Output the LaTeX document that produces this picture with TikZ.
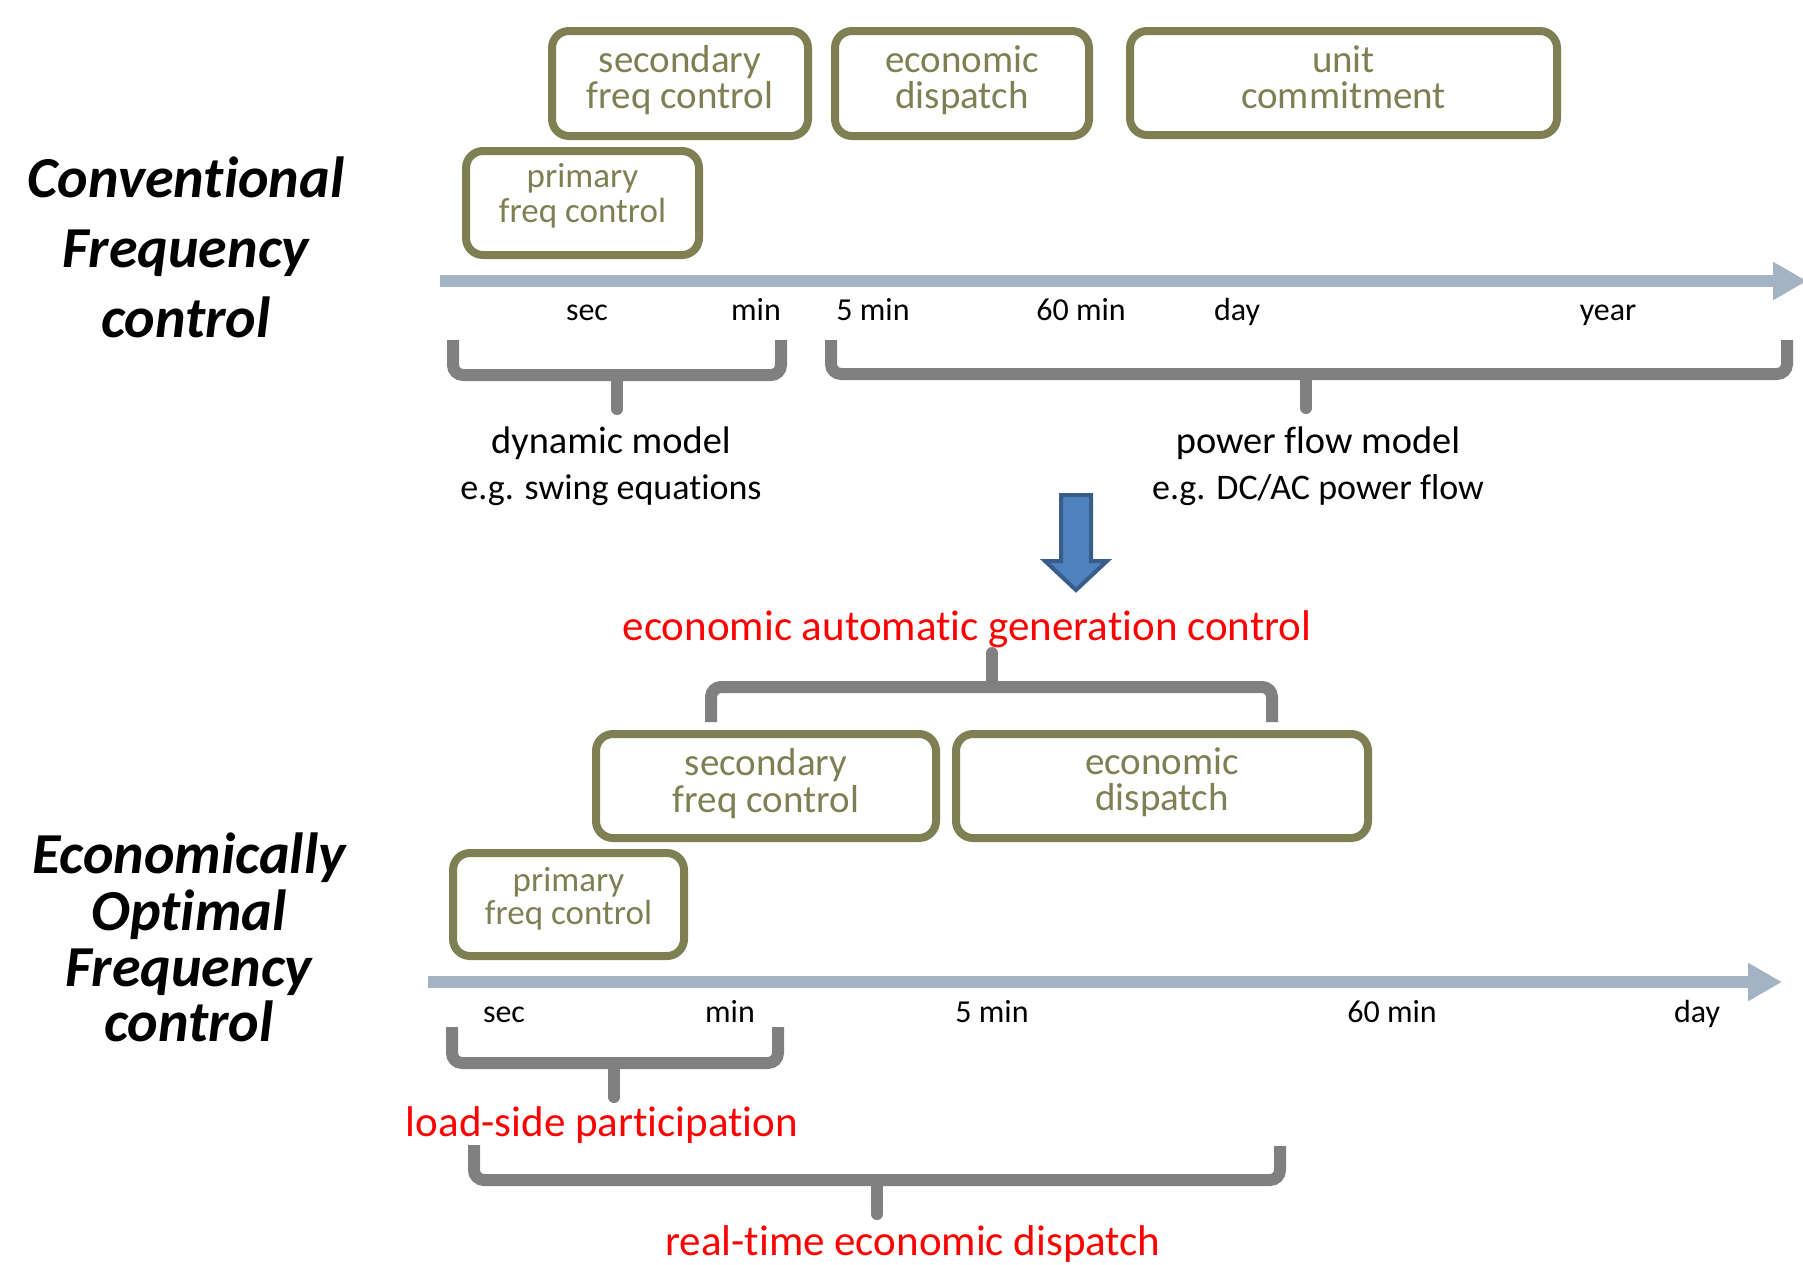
\documentclass[tikz,border=0pt]{standalone}
\usepackage{fontspec}
\setmainfont[RawFeature={-liga;-clig;-calt;-dlig;-rlig}]{Carlito}
\usetikzlibrary{arrows.meta}
\definecolor{boxolive}{RGB}{127,127,84}
\definecolor{axisblue}{RGB}{163,179,195}
\definecolor{bracegray}{RGB}{128,128,128}
\definecolor{arrowfill}{RGB}{79,129,189}
\definecolor{arrowline}{RGB}{56,93,138}
\definecolor{redtxt}{RGB}{255,0,0}
\tikzset{
  ctrlbox/.style={draw=boxolive, line width=4pt, rounded corners=8.5pt, inner sep=0pt},
  boxtxt/.style={text=boxolive, anchor=base, inner sep=0pt, font=\fontsize{19.5}{20}\selectfont},
  primtxt/.style={text=boxolive, anchor=base, inner sep=0pt, font=\fontsize{17.5}{18}\selectfont},
  ticktxt/.style={anchor=base, inner sep=0pt, font=\fontsize{16}{18}\selectfont},
  headtxt/.style={anchor=base, inner sep=0pt, font=\fontsize{19.2}{20}\selectfont},
  egtxt/.style={anchor=base, inner sep=0pt, font=\fontsize{18}{20}\selectfont},
  redlbl/.style={anchor=base, inner sep=0pt, text=redtxt, font=\fontsize{21.5}{22}\selectfont},
  titletxt/.style={anchor=base, inner sep=0pt, font=\fontsize{29}{30}\selectfont\bfseries\itshape},
  bracestyle/.style={draw=bracegray, line width=6pt, rounded corners=5pt},
  bracetip/.style={draw=bracegray, line width=6pt, line cap=round},
  axisline/.style={draw=axisblue, line width=6pt, -{Triangle[length=17pt,width=18pt]}},
}
\begin{document}
\begin{tikzpicture}[x=0.5pt,y=-0.5pt]
\useasboundingbox (0,0) rectangle (1803,1264);

% ---------- Titles ----------
\node[titletxt] (tA1) at (186,197) {Conventional};
\node[titletxt] (tA2) at (186,267) {Frequency};
\node[titletxt] (tA3) at (186,337) {control};
\node[titletxt] (tB1) at (189,873) {Economically};
\node[titletxt] (tB2) at (189,930) {Optimal};
\node[titletxt] (tB3) at (189,986) {Frequency};
\node[titletxt] (tB4) at (189,1041) {control};

% ---------- Top boxes ----------
\node[ctrlbox, minimum width=128pt, minimum height=52.5pt] (tsec) at (680,83.5) {};
\node[boxtxt] (tsec1) at (680,72) {secondary};
\node[boxtxt] (tsec2) at (680,108) {freq control};
\node[ctrlbox, minimum width=127pt, minimum height=52.5pt] (tecon) at (962,83.5) {};
\node[boxtxt] (tecon1) at (962,72) {economic};
\node[boxtxt] (tecon2) at (962,108) {dispatch};
\node[ctrlbox, minimum width=213.5pt, minimum height=52pt] (tunit) at (1343.5,83) {};
\node[boxtxt] (tunit1) at (1343.5,72) {unit};
\node[boxtxt] (tunit2) at (1343.5,108) {commitment};
\node[ctrlbox, minimum width=116.5pt, minimum height=52pt] (tprim) at (582.5,203) {};
\node[primtxt] (tprim1) at (582.5,187) {primary};
\node[primtxt] (tprim2) at (582.5,222) {freq control};

% ---------- Top axis ----------
\coordinate (ax1s) at (440,281);
\coordinate (ax1e) at (1807,281);
\draw[axisline] (ax1s) -- (ax1e);
\node[ticktxt] (k1) at (587,320) {sec};
\node[ticktxt] (k2) at (756,320) {min};
\node[ticktxt] (k3) at (873,320) {5 min};
\node[ticktxt] (k4) at (1081,320) {60 min};
\node[ticktxt] (k5) at (1237,320) {day};
\node[ticktxt] (k6) at (1608,320) {year};

% ---------- Top braces ----------
\draw[bracestyle] (453,340) -- (453,375) -- (781,375) -- (781,340);
\draw[bracetip] (617,375) -- (617,409);
\draw[bracestyle] (831,340) -- (831,374) -- (1787,374) -- (1787,340);
\draw[bracetip] (1306,374) -- (1306,408);

\node[headtxt] (dm) at (611,453) {dynamic model};
\node[egtxt] (dme) at (611,499) {e.g. swing equations};
\node[headtxt] (pf) at (1318,453) {power flow model};
\node[egtxt] (pfe) at (1318,499) {e.g. DC/AC power flow};

% ---------- Blue arrow ----------
\filldraw[fill=arrowfill, draw=arrowline, line width=2pt, line join=miter]
  (1061,495) -- (1091,495) -- (1091,561) -- (1107,561) -- (1076,590)
  -- (1045,561) -- (1061,561) -- cycle;

% ---------- Bottom section ----------
\node[redlbl] (agc) at (967,640) {economic automatic generation control};
\draw[bracestyle] (711,722) -- (711,687) -- (1272,687) -- (1272,722);
\draw[bracetip] (992,687) -- (992,653);

\node[ctrlbox, minimum width=170pt, minimum height=52pt] (bsec) at (766,786) {};
\node[boxtxt] (bsec1) at (766,775) {secondary};
\node[boxtxt] (bsec2) at (766,812) {freq control};
\node[ctrlbox, minimum width=206pt, minimum height=52pt] (becon) at (1162,786) {};
\node[boxtxt] (becon1) at (1162,774) {economic};
\node[boxtxt] (becon2) at (1162,810) {dispatch};
\node[ctrlbox, minimum width=115.5pt, minimum height=51.5pt] (bprim) at (568.5,904.5) {};
\node[primtxt] (bprim1) at (568.5,891) {primary};
\node[primtxt] (bprim2) at (568.5,924) {freq control};

\coordinate (ax2s) at (428,982);
\coordinate (ax2e) at (1782,982);
\draw[axisline] (ax2s) -- (ax2e);
\node[ticktxt] (m1) at (504,1022) {sec};
\node[ticktxt] (m2) at (730,1022) {min};
\node[ticktxt] (m3) at (992,1022) {5 min};
\node[ticktxt] (m4) at (1392,1022) {60 min};
\node[ticktxt] (m5) at (1697,1022) {day};

\draw[bracestyle] (452,1027) -- (452,1063) -- (778,1063) -- (778,1027);
\draw[bracetip] (614,1063) -- (614,1097);
\node[redlbl] (lsp) at (602,1136) {load-side participation};

\draw[bracestyle] (474,1145) -- (474,1180) -- (1280,1180) -- (1280,1146);
\draw[bracetip] (877,1180) -- (877,1214);
\node[redlbl] (rted) at (913,1255) {real-time economic dispatch};
\end{tikzpicture}
\end{document}
